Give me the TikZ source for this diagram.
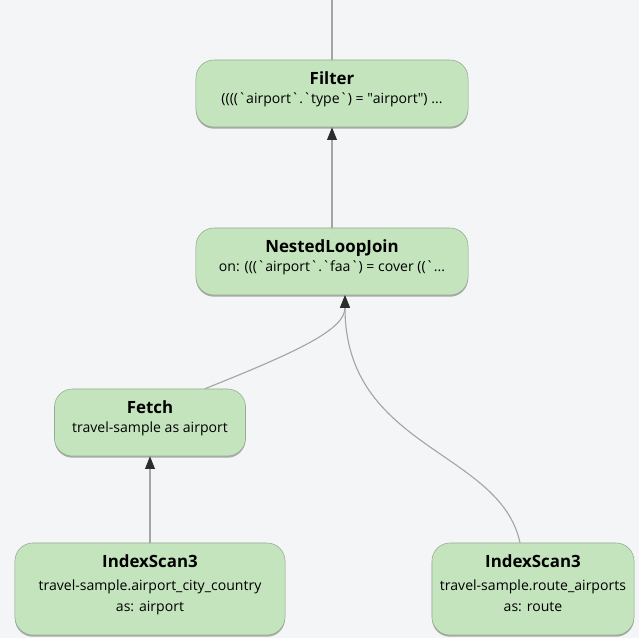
\documentclass[tikz,border=0pt]{standalone}
\usepackage{fontspec}
\setmainfont{Open Sans}
\usetikzlibrary{positioning,arrows.meta,shadows,calc}
\definecolor{opgreen}{RGB}{196,228,190}
\definecolor{opedge}{RGB}{150,172,146}
\definecolor{linkgray}{RGB}{165,165,165}
\definecolor{tipgray}{RGB}{45,45,45}
\definecolor{canvas}{RGB}{244,245,247}
\newcommand{\bqt}{\textasciigrave}
\newcommand{\optitle}[1]{{\fontsize{12}{12}\selectfont\bfseries #1}}
% title + detail lines, lifted a little above the box centre
\newcommand{\opbody}[3][2pt]{%
  \raisebox{0pt}[\height][\dimexpr\depth+5pt\relax]{%
    \begin{tabular}{@{}c@{}}\optitle{#2}\\[#1] #3\end{tabular}}}

\begin{document}
\begin{tikzpicture}[
    x=0.025cm, y=-0.025cm,
    op/.style={
        fill=opgreen,
        draw=opedge,
        line width=0.4pt,
        rounded corners=0.45cm,
        minimum height=1.675cm,
        inner sep=2pt,
        font=\fontsize{10}{12}\selectfont,
        drop shadow={shadow xshift=0pt, shadow yshift=-1.2pt,
                     opacity=0.45, fill=black!70}
    },
    link/.style={
        draw=linkgray,
        line width=0.8pt
    },
    arr/.style={
        link,
        -{Triangle[length=9pt, width=7pt, color=tipgray]}
    }
]

\useasboundingbox (0,0) rectangle (639,638);
\fill[canvas] (0,0) rectangle (639,638);

% ============================================================
% Operators
% ============================================================

\node[op, minimum width=6.8cm] (filter) at (332,93.5)
{\opbody{Filter}
{((((\bqt airport\bqt.\bqt type\bqt) = \textquotedbl airport\textquotedbl) ...}};

\node[op, minimum width=6.8cm] (join) at (332,261.5)
{\opbody{NestedLoopJoin}
{on: (((\bqt airport\bqt.\bqt faa\bqt) = cover ((\bqt...}};

\node[op, minimum width=4.775cm] (fetch) at (150,422.5)
{\opbody{Fetch}
{travel-sample as airport}};

\node[op, minimum width=6.75cm, minimum height=2.3cm] (scanleft) at (150,589)
{\opbody[4pt]{IndexScan3}
{travel-sample.airport\_city\_country\\[3pt] as: airport}};

\node[op, minimum width=5.05cm, minimum height=2.3cm] (scanright) at (533,589)
{\opbody[4pt]{IndexScan3}
{travel-sample.route\_airports\\[3pt] as: route}};

% ============================================================
% Links
% ============================================================

\coordinate (top) at (332,0);
\coordinate (joinin) at ($(join.south)+(13,0)$);
\coordinate (fetchout) at ($(fetch.north)+(55,0)$);
\coordinate (scanout) at ($(scanright.north)+(-13,0)$);

\draw[link] (top) -- (filter);
\draw[arr] (join) -- (filter);
\draw[arr] (scanleft) -- (fetch);
\draw[arr] (fetchout) .. controls +(95,-38) and +(0,34) .. (joinin);
\draw[arr] (scanout) .. controls +(-20,-93) and +(0,154) .. (joinin);

\end{tikzpicture}
\end{document}
